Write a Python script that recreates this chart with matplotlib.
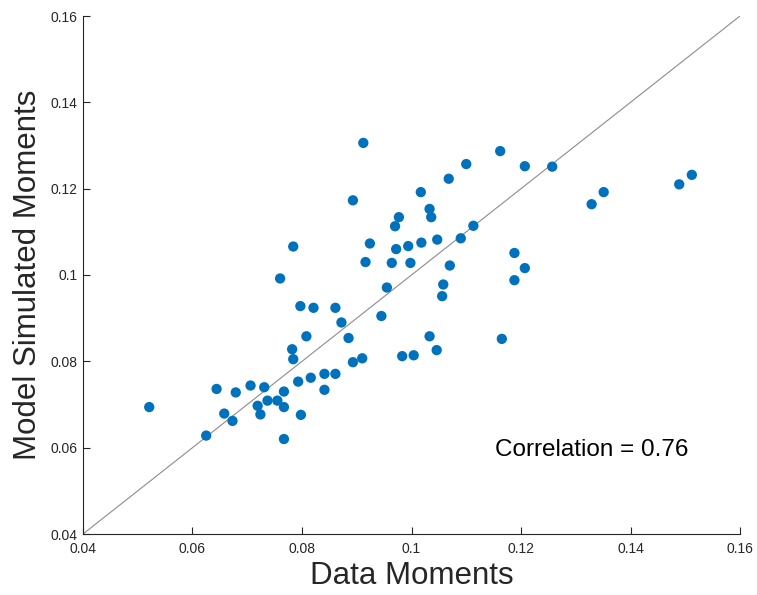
import matplotlib
matplotlib.use("Agg")
import matplotlib.pyplot as plt
from matplotlib.ticker import FuncFormatter

plt.rcParams['font.family'] = ['Liberation Sans', 'DejaVu Sans']

data_moments = [
    0.0521, 0.0625, 0.0644, 0.0658, 0.0673, 0.0679, 0.0706, 0.0719, 0.0724, 0.0731,
    0.0737, 0.0755, 0.0767, 0.0767, 0.0767, 0.0760, 0.0784, 0.0782, 0.0784, 0.0793,
    0.0798, 0.0797, 0.0808, 0.0816, 0.0821, 0.0841, 0.0841, 0.0861, 0.0861, 0.0872,
    0.0885, 0.0893, 0.0893, 0.0910, 0.0912, 0.0916, 0.0924, 0.0945, 0.0955, 0.0964,
    0.0970, 0.0972, 0.0977, 0.0983, 0.0994, 0.0998, 0.1004, 0.1017, 0.1018, 0.1033,
    0.1036, 0.1033, 0.1046, 0.1047, 0.1056, 0.1058, 0.1068, 0.1070, 0.1090, 0.1100,
    0.1113, 0.1162, 0.1165, 0.1188, 0.1188, 0.1207, 0.1207, 0.1257, 0.1329, 0.1351,
    0.1489, 0.1512,
]
model_moments = [
    0.0694, 0.0628, 0.0736, 0.0679, 0.0662, 0.0728, 0.0744, 0.0697, 0.0677, 0.0740,
    0.0709, 0.0709, 0.0730, 0.0694, 0.0620, 0.0992, 0.1066, 0.0828, 0.0805, 0.0753,
    0.0676, 0.0928, 0.0858, 0.0762, 0.0924, 0.0771, 0.0734, 0.0924, 0.0771, 0.0890,
    0.0854, 0.0798, 0.1173, 0.0807, 0.1306, 0.1030, 0.1073, 0.0905, 0.0971, 0.1028,
    0.1113, 0.1060, 0.1134, 0.0812, 0.1067, 0.1028, 0.0814, 0.1192, 0.1075, 0.1153,
    0.1134, 0.0858, 0.0826, 0.1082, 0.0951, 0.0978, 0.1223, 0.1022, 0.1085, 0.1257,
    0.1114, 0.1287, 0.0852, 0.1051, 0.0988, 0.1252, 0.1016, 0.1251, 0.1164, 0.1192,
    0.1210, 0.1232,
]
axis_limits = [0.04, 0.16]
ticks = [0.04, 0.06, 0.08, 0.10, 0.12, 0.14, 0.16]
correlation_text = "Correlation = 0.76"

fig = plt.figure(figsize=(7.57, 5.95), dpi=100)
ax = fig.add_axes([83/757, 1-534/595, (740-83)/757, (534-16)/595])

ax.plot(axis_limits, axis_limits, color='#8c8c8c', lw=0.8, zorder=1)
ax.scatter(data_moments, model_moments, s=55, color='#0072BD', edgecolors='none', zorder=2)

ax.set_xlim(axis_limits)
ax.set_ylim(axis_limits)
ax.set_xticks(ticks)
ax.set_yticks(ticks)
fmt = FuncFormatter(lambda v, p: ('%g' % round(v, 4)))
ax.xaxis.set_major_formatter(fmt)
ax.yaxis.set_major_formatter(fmt)

for s in ['top', 'right']:
    ax.spines[s].set_visible(False)
for s in ['left', 'bottom']:
    ax.spines[s].set_color('#262626')
    ax.spines[s].set_linewidth(0.8)
ax.tick_params(direction='in', length=5, width=0.8, color='#262626',
               labelsize=10, labelcolor='#262626', pad=4)
ax.tick_params(axis='x', pad=6)

ax.set_xlabel('Data Moments', fontsize=22.5, color='#262626', labelpad=3)
ax.set_ylabel('Model Simulated Moments', fontsize=22.5, color='#262626', labelpad=5)

ax.text(0.1152, 0.0595, correlation_text, fontsize=17.5, color='black',
        ha='left', va='center')

fig.savefig('out.png', dpi=100)
